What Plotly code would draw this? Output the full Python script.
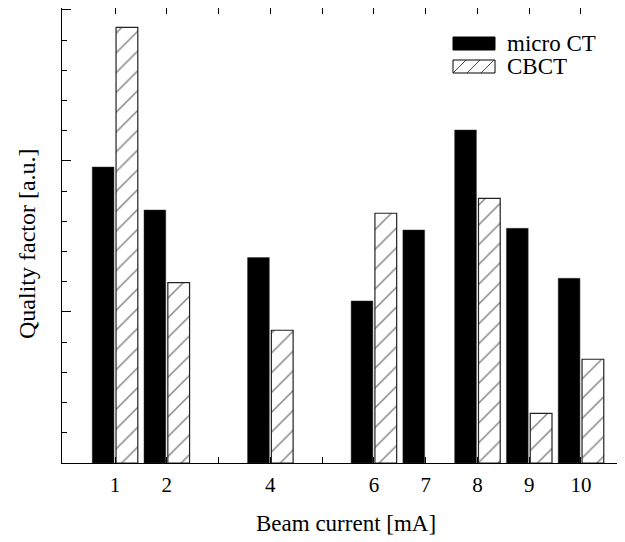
import plotly.graph_objects as go

currents = [1, 2, 4, 6, 7, 8, 9, 10]
micro_ct = [1.96, 1.675, 1.36, 1.073, 1.543, 2.205, 1.554, 1.223]
cbct = [2.885, 1.194, 0.879, 1.654, None, 1.753, 0.329, 0.687]
tick_vals = [1, 2, 3, 4, 5, 6, 7, 8, 9, 10]
tick_text = ["1", "2", "", "4", "", "6", "7", "8", "9", "10"]

FONT = "Liberation Serif"

fig = go.Figure()
fig.add_trace(go.Bar(
    x=currents, y=micro_ct, name="micro CT",
    width=0.42, offset=-0.44,
    marker=dict(color="black", line=dict(color="#333", width=0.5)),
    showlegend=False,
))
fig.add_trace(go.Bar(
    x=currents, y=cbct, name="CBCT",
    width=0.42, offset=0.02,
    marker=dict(color="white", line=dict(color="#222", width=1.2),
                pattern=dict(shape="/", size=14, solidity=0.1,
                             fgcolor="black", bgcolor="white")),
    showlegend=False,
))

# page body has an 8px margin; positions below are in screenshot pixels
OFF = 8
W, H = 617, 534
L, R, T, B = 54, 0, 0, 79
pw, ph = W - L - R, H - T - B


def px(x):
    return (x - OFF - L) / pw


def py(y):
    return 1 - (y - OFF - T) / ph


shapes = [
    dict(type="rect", xref="paper", yref="paper",
         x0=px(453), x1=px(495), y0=py(50), y1=py(37),
         fillcolor="black", line=dict(color="black", width=1)),
    dict(type="rect", xref="paper", yref="paper",
         x0=px(453), x1=px(495), y0=py(73), y1=py(60),
         fillcolor="white", line=dict(color="black", width=1)),
]
for x0 in [453, 467, 481]:
    shapes.append(dict(type="line", xref="paper", yref="paper",
                       x0=px(x0), y0=py(73), x1=px(x0 + 13), y1=py(60),
                       line=dict(color="#222", width=0.8)))

annotations = [
    dict(text="micro CT", xref="paper", yref="paper", x=px(505), y=py(44),
         xanchor="left", yanchor="middle", showarrow=False,
         font=dict(family=FONT, size=23, color="black")),
    dict(text="CBCT", xref="paper", yref="paper", x=px(505), y=py(67),
         xanchor="left", yanchor="middle", showarrow=False,
         font=dict(family=FONT, size=23, color="black")),
    dict(text="Beam current [mA]", xref="paper", yref="paper",
         x=px(346), y=py(523), xanchor="center", yanchor="middle",
         showarrow=False, font=dict(family=FONT, size=23, color="black")),
    dict(text="Quality factor [a.u.]", xref="paper", yref="paper",
         x=px(27), y=py(244), xanchor="center", yanchor="middle",
         textangle=-90, showarrow=False,
         font=dict(family=FONT, size=24, color="black")),
]

fig.update_layout(
    width=W, height=H,
    margin=dict(l=L, r=R, t=T, b=B),
    paper_bgcolor="white", plot_bgcolor="white",
    barmode="overlay",
    shapes=shapes, annotations=annotations,
    font=dict(family=FONT, color="black"),
    xaxis=dict(
        range=[-0.024, 10.85],
        tickmode="array", tickvals=tick_vals, ticktext=tick_text,
        ticks="inside", ticklen=6, tickcolor="black", tickwidth=1,
        showline=True, linecolor="black", linewidth=1, mirror="ticks",
        showgrid=False, zeroline=False,
        tickfont=dict(family=FONT, size=21, color="black"),
        ticklabelstandoff=3,
    ),
    yaxis=dict(
        range=[0, 3.013],
        tickmode="array", tickvals=[0, 1, 2, 3], showticklabels=False,
        ticks="inside", ticklen=9, tickcolor="black", tickwidth=1,
        minor=dict(ticks="inside", ticklen=5, tickcolor="black",
                   tickmode="linear", tick0=0, dtick=0.2, showgrid=False),
        showline=True, linecolor="black", linewidth=1, mirror=False,
        showgrid=False, zeroline=False,
    ),
)

fig.write_html("out.html")
